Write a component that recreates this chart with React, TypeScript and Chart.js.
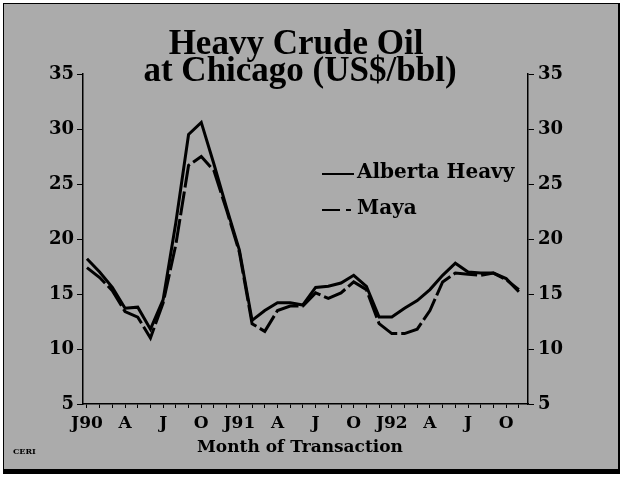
import React, { useEffect, useRef } from "react";
import { Chart, registerables } from "chart.js";

Chart.register(...registerables);

// Month index 0 = Jan 1990 ... 34 = Nov 1992
const tickLabels = ["J90", "A", "J", "O", "J91", "A", "J", "O", "J92", "A", "J", "O"];
const albertaHeavy = [
  18.2, 17.0, 15.6, 13.7, 13.8, 11.8, 14.5, 21.5, 29.5, 30.6, 26.8, 22.8,
  19.0, 12.6, 13.5, 14.2, 14.2, 14.0, 15.6, 15.7, 16.0, 16.7, 15.7, 12.9,
  12.9, 13.7, 14.4, 15.4, 16.7, 17.8, 17.0, 16.9, 16.9, 16.4, 15.2,
];
const maya = [
  17.4, 16.5, 15.3, 13.4, 12.9, 11.0, 14.2, 19.5, 26.7, 27.5, 26.2, 22.6,
  18.8, 12.3, 11.6, 13.5, 13.9, 13.9, 15.1, 14.6, 15.1, 16.1, 15.4, 12.3,
  11.4, 11.4, 11.8, 13.5, 16.1, 16.9, 16.8, 16.7, 16.9, 16.3, 15.4,
];
const titleLines = ["Heavy Crude Oil", "at Chicago (US$/bbl)"];
const xTitle = "Month of Transaction";
const seriesNames = ["Alberta Heavy", "Maya"];
const sourceNote = "CERI";

const FONT = "'DejaVu Serif', serif";
const TITLE_FONT = "'Liberation Serif', 'Times New Roman', serif";

const decor = {
  id: "decor",
  afterDraw(chart: any) {
    const ctx = chart.ctx;
    const area = chart.chartArea;
    ctx.save();
    ctx.fillStyle = "#000";
    ctx.strokeStyle = "#000";
    // title
    ctx.textAlign = "center";
    ctx.textBaseline = "alphabetic";
    ctx.font = `bold 35px ${TITLE_FONT}`;
    ctx.fillText(titleLines[0], 296, 54);
    ctx.fillText(titleLines[1], 300, 81);
    // x title
    ctx.font = `bold 17px ${FONT}`;
    ctx.textBaseline = "middle";
    ctx.fillText(xTitle, 300, 448);
    // legend
    ctx.textAlign = "left";
    ctx.font = `bold 20px ${FONT}`;
    const lx = area.left + 239;
    ctx.fillText(seriesNames[0], lx + 35, 173);
    ctx.fillText(seriesNames[1], lx + 35, 209);
    ctx.lineWidth = 2;
    ctx.beginPath();
    ctx.moveTo(lx, 174);
    ctx.lineTo(lx + 32, 174);
    ctx.stroke();
    ctx.beginPath();
    ctx.moveTo(lx, 210);
    ctx.lineTo(lx + 18, 210);
    ctx.moveTo(lx + 24, 210);
    ctx.lineTo(lx + 29, 210);
    ctx.stroke();
    // source note
    ctx.font = `bold 8px ${FONT}`;
    ctx.fillText(sourceNote, 13, 452);
    ctx.restore();
  },
};

export default function App() {
  const ref = useRef<HTMLCanvasElement | null>(null);
  useEffect(() => {
    if (!ref.current) return;
    const tickFont = { family: FONT, size: 18, weight: "bold" as const };
    const chart = new Chart(ref.current, {
      type: "line",
      data: {
        datasets: [
          {
            label: seriesNames[0],
            data: albertaHeavy.map((v, i) => ({ x: i, y: v })),
            borderColor: "#000",
            borderWidth: 3,
            pointRadius: 0,
            tension: 0,
            yAxisID: "y",
          },
          {
            label: seriesNames[1],
            data: maya.map((v, i) => ({ x: i, y: v })),
            borderColor: "#000",
            borderWidth: 3,
            borderDash: [24, 4],
            pointRadius: 0,
            tension: 0,
            yAxisID: "y",
          },
        ],
      },
      options: {
        animation: false,
        responsive: false,
        devicePixelRatio: 1,
        layout: { padding: { top: 74, left: 0, right: 0, bottom: 0 } },
        plugins: { legend: { display: false }, title: { display: false }, tooltip: { enabled: false } },
        scales: {
          x: {
            type: "linear",
            min: -0.31,
            max: 34.72,
            afterFit: (s: any) => {
              s.height = 74;
            },
            grid: { display: true, drawOnChartArea: false, drawTicks: true, tickLength: 4, color: "#000", lineWidth: 1 },
            border: { display: true, color: "#000", width: 1.5 },
            ticks: {
              stepSize: 1,
              autoSkip: false,
              includeBounds: false,
              maxRotation: 0,
              padding: 5,
              color: "#000",
              font: { family: FONT, size: 17, weight: "bold" },
              callback: (v: any) => {
                const n = Math.round(Number(v));
                return n >= 0 && n % 3 === 0 && tickLabels[n / 3] ? tickLabels[n / 3] : "";
              },
            },
          },
          y: {
            position: "left",
            min: 5,
            max: 35,
            afterFit: (s: any) => {
              s.width = 83;
            },
            grid: { display: true, drawOnChartArea: false, tickLength: 6, color: "#000", lineWidth: 1 },
            border: { display: true, color: "#000", width: 1.5 },
            ticks: { stepSize: 5, padding: 3, color: "#000", font: tickFont },
          },
          y2: {
            position: "right",
            min: 5,
            max: 35,
            afterFit: (s: any) => {
              s.width = 95;
            },
            grid: { display: true, drawOnChartArea: false, tickLength: 6, color: "#000", lineWidth: 1 },
            border: { display: true, color: "#000", width: 1.5 },
            ticks: { stepSize: 5, padding: 4, color: "#000", font: tickFont },
          },
        },
      },
      plugins: [decor],
    });
    return () => chart.destroy();
  }, []);

  return (
    <div style={{ position: "fixed", left: 0, top: 0, width: 623, height: 478, background: "#fff" }}>
      <div
        style={{
          position: "absolute",
          left: 3,
          top: 3,
          width: 614,
          height: 465,
          background: "#ababab",
          borderTop: "1.5px solid #000",
          borderLeft: "1.5px solid #000",
          borderRight: "2px solid #000",
          borderBottom: "5px solid #000",
        }}
      />
      <canvas ref={ref} width={623} height={478} style={{ position: "absolute", left: 0, top: 0 }} />
    </div>
  );
}
